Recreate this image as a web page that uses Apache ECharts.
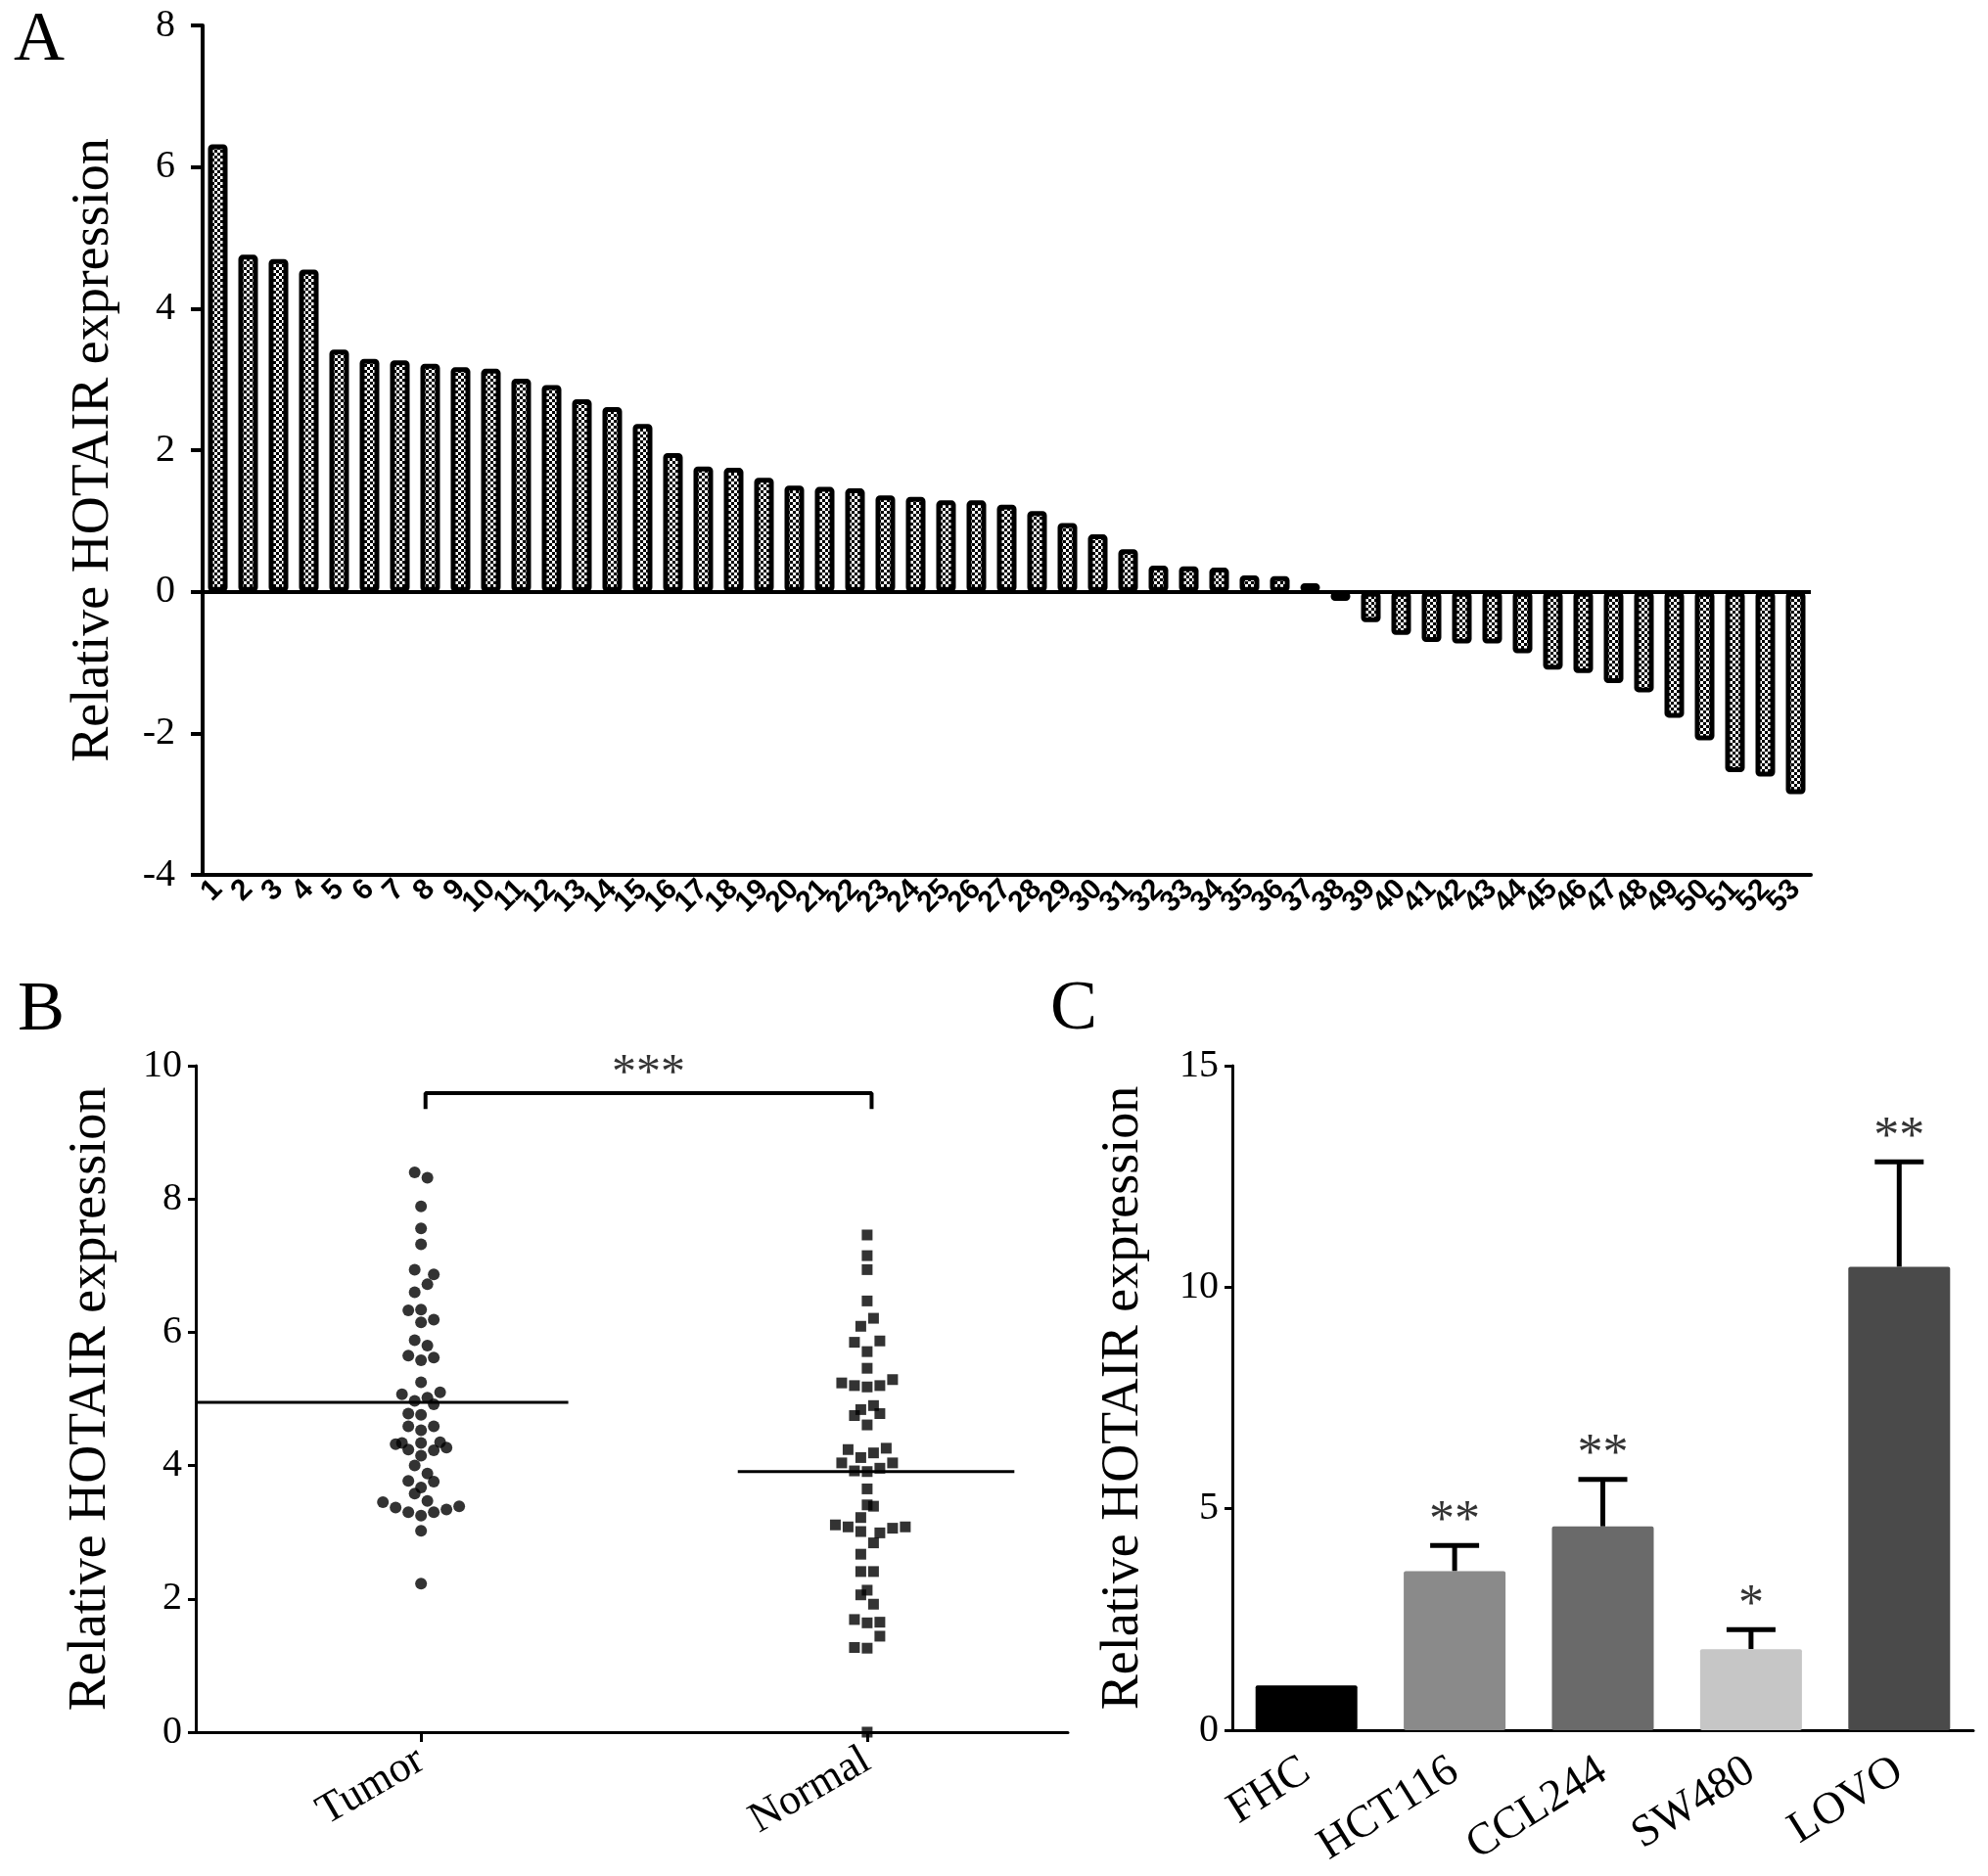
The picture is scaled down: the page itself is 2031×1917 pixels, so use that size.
<!DOCTYPE html>
<html>
<head>
<meta charset="utf-8">
<title>HOTAIR expression</title>
<style>
  html, body { margin: 0; padding: 0; background: #fff; }
  #chart { width: 2031px; height: 1917px; }
</style>
<script src="https://cdn.jsdelivr.net/npm/echarts@6/dist/echarts.min.js"></script>
</head>
<body>
<div id="chart"></div>
<script>
// ---- panel A: relative expression per patient ----
var sampleIds = ['1','2','3','4','5','6','7','8','9','10','11','12','13','14','15','16','17','18','19','20',
  '21','22','23','24','25','26','27','28','29','30','31','32','33','34','35','36','37','38','39','40',
  '41','42','43','44','45','46','47','48','49','50','51','52','53'];
var sampleValues = [6.32, 4.76, 4.70, 4.55, 3.42, 3.29, 3.27, 3.22, 3.17, 3.15, 3.01, 2.92, 2.72, 2.61, 2.37,
  1.96, 1.77, 1.75, 1.61, 1.50, 1.48, 1.46, 1.36, 1.34, 1.29, 1.29, 1.23, 1.14, 0.97, 0.81, 0.60, 0.37, 0.36,
  0.34, 0.23, 0.22, 0.12, -0.13, -0.43, -0.61, -0.71, -0.73, -0.73, -0.87, -1.10, -1.15, -1.29, -1.42, -1.78,
  -2.10, -2.55, -2.61, -2.86];

// ---- panel B: tumor vs normal (value, horizontal swarm offset in dot steps) ----
var groupNames = ['Tumor', 'Normal'];
var tumorValues = [8.40, 8.32, 7.89, 7.56, 7.32, 6.94, 6.87, 6.72, 6.60, 6.33, 6.34, 6.15, 6.19, 5.88, 5.80,
  5.65, 5.58, 5.62, 5.25, 5.07, 5.02, 5.10, 4.97, 4.92, 4.78, 4.76, 4.59, 4.53, 4.59, 4.32, 4.34, 4.34, 4.24,
  4.35, 4.27, 4.23, 4.15, 4.00, 3.88, 3.77, 3.76, 3.67, 3.58, 3.47, 3.45, 3.37, 3.30, 3.25, 3.30, 3.34, 3.39,
  3.02, 2.23];
var tumorOffsets = [-0.5, 0.5, 0, 0, 0, -0.5, 1, 0.5, -0.5, -1, 0, 0, 1, -0.5, 0.5,
  -1, 0, 1, 0, -1.5, 0.5, 1.5, -0.5, 1, -1, 0, -1, 0, 1, -2, -1.5, 0, -1,
  1.5, 2, 1, 0, -0.5, 0.5, -1, 1, 0, -0.5, 0.5, -3, -2, -1, 0, 1, 2, 3,
  0, 0];
var normalValues = [7.46, 7.15, 6.94, 6.47, 6.21, 6.09, 5.85, 5.87, 5.71, 5.46, 5.24, 5.20, 5.18, 5.20, 5.29,
  4.84, 4.90, 4.75, 4.78, 4.61, 4.24, 4.12, 4.19, 4.26, 4.04, 4.04, 3.92, 3.91, 3.96, 3.65, 3.41, 3.39, 3.22,
  3.11, 3.08, 3.01, 2.99, 3.06, 3.08, 2.84, 2.67, 2.41, 2.41, 2.13, 2.06, 1.92, 1.69, 1.64, 1.65, 1.44, 1.27,
  1.26, 0.0];
var normalOffsets = [0, 0, 0, 0, 0.5, -0.5, -1, 1, 0, 0, -2, -1, 0, 1, 2,
  -0.5, 0.5, -1, 1, 0, -1.5, -0.5, 0.5, 1.5, -2, 2, -1, 0, 1, 0, 0, 0.5, -0.5,
  -2.5, -1.5, -0.5, 1, 2, 3, 0.5, -0.5, -0.5, 0.5, 0, -0.5, 0.5, -1, 0, 1, 1, -1,
  0, 0];
var groupMeans = [4.95, 3.91];
var tumorMeanSpan = [-0.505, 0.33];
var normalMeanSpan = [0.71, 1.33];
var bracketX = [0.01, 1.01];
var bracketY = [9.35, 9.59];
var bracketText = '***';

// ---- panel C: cell lines ----
var cellLines = ['FHC', 'HCT116', 'CCL244', 'SW480', 'LOVO'];
var cellMeans = [1.01, 3.59, 4.60, 1.83, 10.46];
var cellSD = [0, 0.58, 1.06, 0.44, 2.37];
var cellStars = ['', '**', '**', '*', '**'];
var cellColors = ['#000000', '#8a8a8a', '#6a6a6a', '#c6c6c6', '#4a4a4a'];

var SERIF = '"Liberation Serif", "Times New Roman", serif';
var SWARM_STEP = 0.0285;

// checkerboard fill for panel A bars
var pat = document.createElement('canvas');
pat.width = 6;
pat.height = 6;
var pctx = pat.getContext('2d');
pctx.fillStyle = '#fff';
pctx.fillRect(0, 0, 6, 6);
pctx.fillStyle = '#000';
pctx.fillRect(0, 0, 3, 3);
pctx.fillRect(3, 3, 3, 3);

function swarm(values, offsets, center) {
  return values.map(function (v, i) { return [center + offsets[i] * SWARM_STEP, v]; });
}

var chart = echarts.init(document.getElementById('chart'));

var yTitle = 'Relative HOTAIR expression';
var titleStyle = { fontFamily: SERIF, fontSize: 54, color: '#000' };
var tickFont = { fontFamily: SERIF, fontSize: 40, color: '#000' };

var option = {
  backgroundColor: '#fff',
  animation: false,
  graphic: [
    { type: 'text', x: 40, y: 42, style: { text: 'A', font: '72px ' + SERIF, fill: '#000', align: 'center', verticalAlign: 'middle' } },
    { type: 'text', x: 42, y: 1033, style: { text: 'B', font: '72px ' + SERIF, fill: '#000', align: 'center', verticalAlign: 'middle' } },
    { type: 'text', x: 1097, y: 1032, style: { text: 'C', font: '72px ' + SERIF, fill: '#000', align: 'center', verticalAlign: 'middle' } }
  ],
  grid: [
    { left: 207, top: 26, width: 1643, height: 868 },
    { left: 200, top: 1089, width: 891, height: 681 },
    { left: 1259, top: 1089, width: 757, height: 679 }
  ],
  xAxis: [
    {
      type: 'category', gridIndex: 0, data: sampleIds,
      axisLine: { onZero: false, lineStyle: { color: '#000', width: 4 } },
      axisTick: { alignWithLabel: true, length: 10, lineStyle: { width: 3, color: '#000' } },
      axisLabel: { interval: 0, rotate: 45, margin: 10, fontFamily: '"Liberation Sans", Arial, sans-serif', fontWeight: 'bold', fontSize: 30, color: '#000' }
    },
    {
      type: 'value', gridIndex: 1, min: -0.505, max: 1.45,
      splitLine: { show: false },
      axisLine: { onZero: false, lineStyle: { color: '#000', width: 3 } },
      axisTick: { customValues: [0, 1], length: 10, lineStyle: { width: 3, color: '#000' } },
      axisLabel: {
        customValues: [0, 1], rotate: 30, margin: 26, fontFamily: SERIF, fontSize: 44, color: '#000',
        formatter: function (v) { return groupNames[Math.round(v)]; }
      }
    },
    {
      type: 'category', gridIndex: 2, data: cellLines,
      axisLine: { lineStyle: { color: '#000', width: 3 } },
      axisTick: { alignWithLabel: true, length: 10, lineStyle: { width: 3, color: '#000' } },
      axisLabel: { interval: 0, rotate: 32, margin: 38, fontFamily: SERIF, fontSize: 46, color: '#000' }
    }
  ],
  yAxis: [
    {
      type: 'value', gridIndex: 0, min: -4, max: 8, interval: 2,
      name: yTitle, nameLocation: 'middle', nameRotate: 90, nameGap: 84, nameTextStyle: titleStyle,
      splitLine: { show: false },
      axisLine: { show: true, onZero: false, lineStyle: { color: '#000', width: 4 } },
      axisTick: { show: true, length: 12, lineStyle: { width: 4, color: '#000' } },
      axisLabel: Object.assign({ margin: 28 }, tickFont)
    },
    {
      type: 'value', gridIndex: 1, min: 0, max: 10, interval: 2,
      name: yTitle, nameLocation: 'middle', nameRotate: 90, nameGap: 80, nameTextStyle: titleStyle,
      splitLine: { show: false },
      axisLine: { show: true, onZero: false, lineStyle: { color: '#000', width: 3 } },
      axisTick: { show: true, length: 8, lineStyle: { width: 3, color: '#000' } },
      axisLabel: Object.assign({ margin: 14 }, tickFont)
    },
    {
      type: 'value', gridIndex: 2, min: 0, max: 15, interval: 5,
      name: yTitle, nameLocation: 'middle', nameRotate: 90, nameGap: 84, nameTextStyle: titleStyle,
      splitLine: { show: false },
      axisLine: { show: true, onZero: false, lineStyle: { color: '#000', width: 3 } },
      axisTick: { show: true, length: 8, lineStyle: { width: 3, color: '#000' } },
      axisLabel: Object.assign({ margin: 14 }, tickFont)
    }
  ],
  series: [
    // A
    {
      type: 'bar', xAxisIndex: 0, yAxisIndex: 0, data: sampleValues, barWidth: 20,
      itemStyle: { color: { image: pat, repeat: 'repeat' }, borderColor: '#000', borderWidth: 5, borderRadius: 2 },
      markLine: {
        silent: true, symbol: 'none', label: { show: false },
        lineStyle: { color: '#000', width: 4, type: 'solid' },
        data: [{ yAxis: 0 }]
      }
    },
    // B
    {
      type: 'scatter', xAxisIndex: 1, yAxisIndex: 1, symbol: 'circle', symbolSize: 12,
      itemStyle: { color: '#000' }, data: swarm(tumorValues, tumorOffsets, 0)
    },
    {
      type: 'scatter', xAxisIndex: 1, yAxisIndex: 1, symbol: 'rect', symbolSize: 11,
      itemStyle: { color: '#000' }, data: swarm(normalValues, normalOffsets, 1)
    },
    {
      type: 'line', xAxisIndex: 1, yAxisIndex: 1, symbol: 'none',
      lineStyle: { color: '#000', width: 3 },
      data: [[tumorMeanSpan[0], groupMeans[0]], [tumorMeanSpan[1], groupMeans[0]]]
    },
    {
      type: 'line', xAxisIndex: 1, yAxisIndex: 1, symbol: 'none',
      lineStyle: { color: '#000', width: 3 },
      data: [[normalMeanSpan[0], groupMeans[1]], [normalMeanSpan[1], groupMeans[1]]]
    },
    {
      type: 'line', xAxisIndex: 1, yAxisIndex: 1, symbol: 'none',
      lineStyle: { color: '#000', width: 4 },
      data: [[bracketX[0], bracketY[0]], [bracketX[0], bracketY[1]], [bracketX[1], bracketY[1]], [bracketX[1], bracketY[0]]]
    },
    {
      type: 'scatter', xAxisIndex: 1, yAxisIndex: 1, symbolSize: 0,
      label: { show: true, position: 'top', distance: -6, formatter: bracketText, fontFamily: SERIF, fontSize: 50, color: '#000' },
      data: [[(bracketX[0] + bracketX[1]) / 2, bracketY[1]]]
    },
    // C
    {
      type: 'bar', xAxisIndex: 2, yAxisIndex: 2, barWidth: 104,
      itemStyle: { borderRadius: 2 },
      data: cellMeans.map(function (v, i) { return { value: v, itemStyle: { color: cellColors[i] } }; })
    },
    {
      type: 'custom', xAxisIndex: 2, yAxisIndex: 2,
      data: cellMeans.map(function (v, i) { return [i, v + cellSD[i], v]; }).filter(function (d, i) { return cellSD[i] > 0; }),
      encode: { x: 0, y: 1 },
      renderItem: function (params, api) {
        var top = api.coord([api.value(0), api.value(1)]);
        var base = api.coord([api.value(0), api.value(2)]);
        return {
          type: 'group',
          children: [
            { type: 'line', shape: { x1: top[0], y1: top[1], x2: base[0], y2: base[1] }, style: { stroke: '#000', lineWidth: 5 } },
            { type: 'line', shape: { x1: top[0] - 25, y1: top[1], x2: top[0] + 25, y2: top[1] }, style: { stroke: '#000', lineWidth: 5 } }
          ]
        };
      }
    },
    {
      type: 'scatter', xAxisIndex: 2, yAxisIndex: 2, symbolSize: 0,
      label: {
        show: true, position: 'top', distance: -2, fontFamily: SERIF, fontSize: 52, color: '#000',
        formatter: function (p) { return p.value[2]; }
      },
      data: cellMeans.map(function (v, i) { return [i, v + cellSD[i], cellStars[i]]; }).filter(function (d, i) { return cellStars[i]; })
    }
  ]
};

chart.setOption(option);
</script>
</body>
</html>
